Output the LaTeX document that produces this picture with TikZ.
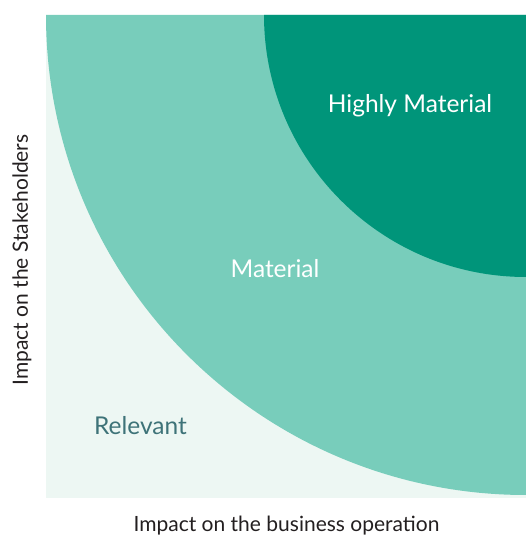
\documentclass[tikz,border=0pt]{standalone}
\usepackage{fontspec}
\setmainfont{Lato}
\definecolor{darkg}{HTML}{00957A}
\definecolor{midg}{HTML}{78CDBB}
\definecolor{paleg}{HTML}{EDF7F3}
\definecolor{reltext}{HTML}{3E7378}
\definecolor{axtext}{HTML}{231F20}
\begin{document}
\begin{tikzpicture}[x=1pt,y=1pt,
  zonelabel/.style={font=\fontsize{24.5}{28}\selectfont, text=white, inner sep=0pt},
  axislabel/.style={font=\fontsize{21}{24}\selectfont, text=axtext, inner sep=0pt}]
\useasboundingbox (0,0) rectangle (526,536);
\fill[paleg] (46,38) rectangle (526,521);
\fill[midg] (526,521) -- (46,521) arc[start angle=180, end angle=270, radius=480] -- cycle;
\fill[darkg] (526,521) -- (264,521) arc[start angle=180, end angle=270, radius=262] -- cycle;
\node[zonelabel] (high) at (410,430) {Highly Material};
\node[zonelabel] (mat) at (275,267) {Material};
\node[zonelabel, text=reltext] (rel) at (140.5,110) {Relevant};
\node[axislabel] (xlab) at (286.5,10) {Impact on the business operation};
\node[axislabel, rotate=90] (ylab) at (22,276) {Impact on the Stakeholders};
\end{tikzpicture}
\end{document}
